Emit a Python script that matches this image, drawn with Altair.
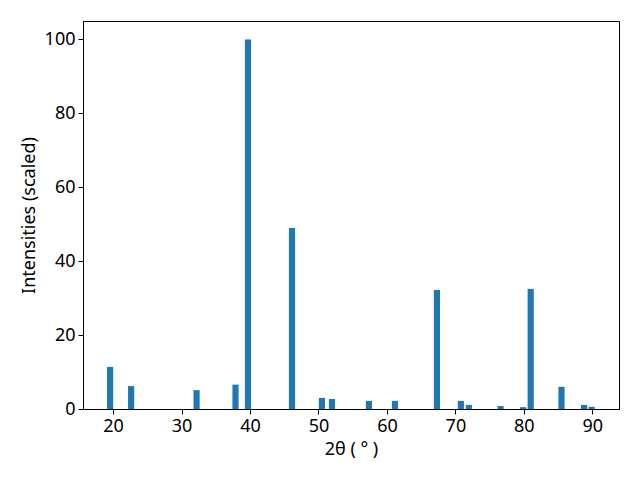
import altair as alt
import pandas as pd

two_theta = [19.56, 22.63, 32.19, 37.88, 39.70, 46.13, 50.50, 51.97, 57.37, 61.17,
             67.30, 70.80, 71.97, 76.60, 79.90, 81.00, 85.50, 88.80, 89.90]
intensity = [11.4, 6.2, 5.1, 6.6, 100.0, 49.0, 3.0, 2.7, 2.2, 2.2,
             32.2, 2.2, 1.1, 0.8, 0.5, 32.5, 6.0, 1.1, 0.6]
x_ticks = [20, 30, 40, 50, 60, 70, 80, 90]
y_ticks = [0, 20, 40, 60, 80, 100]
bar_width = 0.9

df = pd.DataFrame({"t": two_theta, "i": intensity})

font = "Noto Sans"

chart = alt.Chart(df).transform_calculate(
    x1=f"datum.t - {bar_width/2}", x2=f"datum.t + {bar_width/2}", y0="0"
).mark_bar(color="#1f77b4").encode(
    x=alt.X("x1:Q", scale=alt.Scale(domain=[15.6, 93.9], nice=False, zero=False),
            axis=alt.Axis(values=x_ticks, title="2θ ( ° )", format="d")),
    x2="x2:Q",
    y=alt.Y("i:Q", scale=alt.Scale(domain=[0, 105], nice=False),
            axis=alt.Axis(values=y_ticks, title="Intensities (scaled)")),
    y2="y0:Q",
).properties(
    width=536, height=388,
    autosize=alt.AutoSizeParams(type="none"),
    padding={"left": 75, "top": 13, "right": 13, "bottom": 63},
).configure_view(
    stroke="black", strokeWidth=1
).configure_axis(
    grid=False, domainColor="black", tickColor="black", tickSize=5,
    labelFont=font, labelFontSize=18, labelColor="black", labelPadding=3,
    titleFont=font, titleFontSize=18, titleColor="black", titleFontWeight="normal",
    labelFlush=False,
).configure_axisY(titlePadding=6).configure_axisX(titlePadding=5)

chart.save("out.html", embed_options={"renderer": "svg", "actions": False})
